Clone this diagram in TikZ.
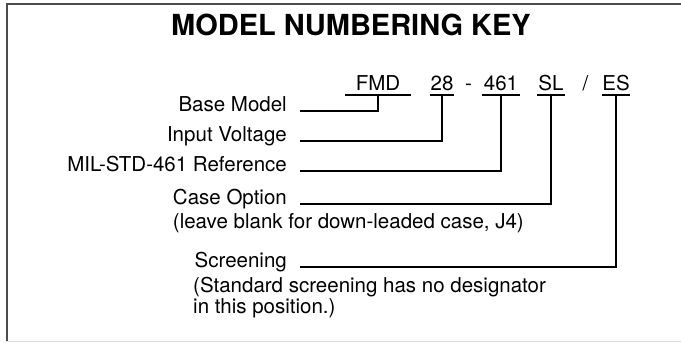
\documentclass[tikz,border=0pt]{standalone}
\usepackage{fontspec}
\setmainfont{TeX Gyre Heros}
\usepackage{tikz}

\begin{document}
\begin{tikzpicture}[x=1pt,y=-1pt,
    lbl/.style={anchor=base east,inner sep=0pt,font=\fontsize{20.5}{24}\selectfont},
    note/.style={anchor=base west,inner sep=0pt,font=\fontsize{20.5}{24}\selectfont},
    code/.style={anchor=base,inner xsep=0pt,inner ysep=5pt,text depth=0pt,font=\fontsize{20.5}{24}\selectfont},
    uline/.style={line width=1.5pt},
    leader/.style={line width=1.8pt}]
    \useasboundingbox (0,0) rectangle (681,343);
    \draw[line width=1.5pt,black!70] (7,341) -- (7,4) -- (690,4);
    \draw[line width=1pt,black!15] (7,341) -- (690,341);
    \node[anchor=base,inner sep=0pt,font=\fontsize{29}{34}\selectfont\bfseries] (title) at (351,35) {MODEL NUMBERING KEY};
    \node[code,minimum width=66pt] (fmd) at (378,90) {FMD};
    \node[code,minimum width=24pt] (v28) at (442,90) {28};
    \node[code] (dash) at (468.5,90) {-};
    \node[code,minimum width=37pt] (ref461) at (501,90) {461};
    \node[code,minimum width=27pt] (sl) at (551,90) {SL};
    \node[code] (slash) at (585.5,90) {/};
    \node[code,minimum width=27pt] (es) at (616,90) {ES};
    \foreach \n in {fmd,v28,ref461,sl,es}
      \draw[uline] (\n.south west) -- (\n.south east);
    \node[lbl] (base) at (287,111) {Base Model};
    \node[lbl] (volt) at (287,141) {Input Voltage};
    \node[lbl] (mil) at (287,171) {MIL-STD-461 Reference};
    \node[lbl] (case) at (287,204) {Case Option};
    \node[note] (casenote) at ([yshift=-24pt]case.base west) {(leave blank for down-leaded case, J4)};
    \node[lbl] (scr) at (287,267) {Screening};
    \node[note] (scrnote) at (193,292) {(Standard screening has no designator};
    \node[note] (scrnotetwo) at (193,313) {in this position.)};
    \draw[leader] ([xshift=13pt]base.base east) -| (fmd.south);
    \draw[leader] ([xshift=13pt]volt.base east) -| (v28.south);
    \draw[leader] ([xshift=13pt]mil.base east) -| (ref461.south);
    \draw[leader] ([xshift=13pt]case.base east) -| (sl.south);
    \draw[leader] ([xshift=13pt]scr.base east) -| (es.south);
  \end{tikzpicture}
\end{document}
